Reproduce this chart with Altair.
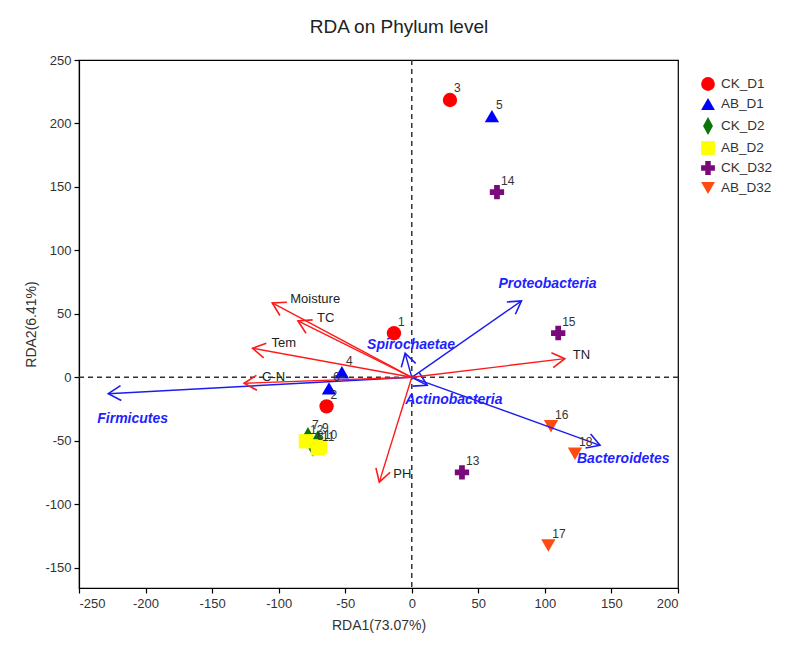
import altair as alt
import pandas as pd
import numpy as np

# ---------------- data ----------------
sample_ids = ["1", "2", "3", "4", "5", "6", "7", "8", "9",
              "10", "11", "12", "13", "14", "15", "16", "17", "18"]
sample_groups = ["CK_D1", "CK_D1", "CK_D1", "AB_D1", "AB_D1", "AB_D1",
                 "CK_D2", "CK_D2", "CK_D2", "AB_D2", "AB_D2", "AB_D2",
                 "CK_D32", "CK_D32", "CK_D32", "AB_D32", "AB_D32", "AB_D32"]
sample_rda1 = [-13.4, -64.0, 28.7, -52.5, 60.2, -62.2, -78.0, -74.2, -70.5,
               -69.0, -70.5, -79.5, 37.7, 64.0, 110.0, 104.6, 102.6, 122.6]
sample_rda2 = [34.7, -22.9, 218.5, 4.0, 205.8, -8.7, -46.5, -55.2, -48.9,
               -54.4, -56.0, -50.4, -74.9, 145.9, 34.9, -38.6, -132.5, -60.2]

env_names = ["Moisture", "TC", "Tem", "C-N", "TN", "PH"]
env_rda1 = [-104.8, -85.5, -119.6, -126.0, 115.0, -24.4]
env_rda2 = [58.6, 44.4, 22.9, -4.7, 14.7, -82.6]

phyla_names = ["Firmicutes", "Proteobacteria", "Spirochaetae", "Actinobacteria", "Bacteroidetes"]
phyla_rda1 = [-228.0, 82.4, -5.0, 11.6, 141.4]
phyla_rda2 = [-12.9, 60.2, 19.0, -6.3, -53.6]

group_order = ["CK_D1", "AB_D1", "CK_D2", "AB_D2", "CK_D32", "AB_D32"]
group_colors = ["#ff0000", "#0000ff", "#0a760a", "#ffff00", "#7a0a7a", "#ff4a10"]
DIAMOND = "M0,-1.3L0.72,0L0,1.3L-0.72,0Z"
group_shapes = ["circle", "triangle-up", DIAMOND, "square", "cross", "triangle-down"]

# ---------------- layout ----------------
W, H = 599, 528
XDOM = [-250, 200]
YDOM = [-166, 250]
SX = W / (XDOM[1] - XDOM[0])
SY = H / (YDOM[1] - YDOM[0])
FONT = "Liberation Sans"
CHEVRON = "M-0.62,1.05L0,0L0.62,1.05"
HYPHEN_LABEL = "datum.value < 0 ? '-' + abs(datum.value) : '' + datum.value"

# label pixel offsets (dx right, dy down) relative to arrow tips
env_offsets = {"Moisture": (18, -4), "TC": (19, -3), "Tem": (19, -5),
               "C-N": (18, -6), "TN": (8, -4), "PH": (14, -8)}
phyla_offsets = {"Firmicutes": (-11, 25), "Proteobacteria": (-23, -17),
                 "Spirochaetae": (-38, -8), "Actinobacteria": (-22, 15),
                 "Bacteroidetes": (-23, 14)}

samples = pd.DataFrame({"id": sample_ids, "group": sample_groups,
                        "x": sample_rda1, "y": sample_rda2})


def arrow_frame(names, xs, ys, offsets):
    df = pd.DataFrame({"name": names, "x": xs, "y": ys})
    df["x0"] = 0.0
    df["y0"] = 0.0
    df["ang"] = (np.degrees(np.arctan2(df["x"] * SX, df["y"] * SY)) + 360) % 360
    df["lx"] = [x + offsets[n][0] / SX for n, x in zip(df["name"], df["x"])]
    df["ly"] = [y - offsets[n][1] / SY for n, y in zip(df["name"], df["y"])]
    return df


env = arrow_frame(env_names, env_rda1, env_rda2, env_offsets)
phyla = arrow_frame(phyla_names, phyla_rda1, phyla_rda2, phyla_offsets)
zero = pd.DataFrame({"v": [0.0]})

xs = alt.Scale(domain=XDOM, nice=False, zero=False)
ys = alt.Scale(domain=YDOM, nice=False, zero=False)

X = alt.X("x:Q", scale=xs, axis=alt.Axis(title="RDA1(73.07%)", values=list(range(-250, 201, 50)),
                                         labelExpr=HYPHEN_LABEL, labelPadding=4, titlePadding=8))
Y = alt.Y("y:Q", scale=ys, axis=alt.Axis(title="RDA2(6.41%)", values=list(range(-150, 251, 50)),
                                         labelExpr=HYPHEN_LABEL, labelPadding=3, titlePadding=6))

vrule = alt.Chart(zero).mark_rule(color="#333", strokeDash=[5, 4], strokeWidth=1.5).encode(
    x=alt.X("v:Q", scale=xs))
hrule = alt.Chart(zero).mark_rule(color="#333", strokeDash=[5, 4], strokeWidth=1.5).encode(
    y=alt.Y("v:Q", scale=ys))


def arrows(df, color):
    line = alt.Chart(df).mark_rule(color=color, strokeWidth=1.4).encode(
        x=alt.X("x0:Q", scale=xs), y=alt.Y("y0:Q", scale=ys), x2="x:Q", y2="y:Q")
    head = alt.Chart(df).mark_point(shape=CHEVRON, filled=False, color=color, size=580,
                                    strokeWidth=1.6, opacity=1).encode(
        x=alt.X("x:Q", scale=xs), y=alt.Y("y:Q", scale=ys), angle=alt.Angle("ang:Q", scale=None))
    return line + head


phyla_arrows = arrows(phyla, "#1c1cf0")
env_arrows = arrows(env, "#ff1a1a")

env_text = alt.Chart(env).mark_text(align="left", baseline="middle", fontSize=13,
                                    color="#222", font=FONT).encode(
    x=alt.X("lx:Q", scale=xs), y=alt.Y("ly:Q", scale=ys), text="name:N")
phyla_text = alt.Chart(phyla).mark_text(align="left", baseline="middle", fontSize=14,
                                        fontWeight="bold", fontStyle="italic",
                                        color="#1f1fff", font=FONT).encode(
    x=alt.X("lx:Q", scale=xs), y=alt.Y("ly:Q", scale=ys), text="name:N")

legend = alt.Legend(title=None, orient="none", legendX=622, legendY=17,
                    labelFontSize=13.5, labelColor="#333", labelFont=FONT,
                    symbolSize=190, labelOffset=6, rowPadding=6, symbolStrokeWidth=0)

pts = alt.Chart(samples).mark_point(filled=True, size=205, opacity=1).encode(
    x=X, y=Y,
    color=alt.Color("group:N", scale=alt.Scale(domain=group_order, range=group_colors),
                    sort=group_order, legend=legend),
    shape=alt.Shape("group:N", scale=alt.Scale(domain=group_order, range=group_shapes),
                    sort=group_order, legend=legend),
)

pt_text = alt.Chart(samples).mark_text(align="left", baseline="middle", dx=4, dy=-11.5,
                                       fontSize=12, color="#333", font=FONT).encode(
    x=alt.X("x:Q", scale=xs), y=alt.Y("y:Q", scale=ys), text="id:N")

chart = alt.layer(
    pts, vrule, hrule, phyla_arrows, env_arrows, env_text, phyla_text, pt_text
).properties(
    width=W, height=H,
    title=alt.Title("RDA on Phylum level", fontSize=19, fontWeight="normal", font=FONT,
                    color="#222", anchor="middle", frame="bounds", offset=17),
    autosize=alt.AutoSizeParams(type="none"),
    padding={"left": 71, "top": 52, "right": 107, "bottom": 55},
    background="white",
).configure_view(stroke="black", strokeWidth=1.2).configure_axis(
    grid=False, labelFontSize=13, labelColor="#333", labelFont=FONT,
    titleFontSize=14, titleFontWeight="normal", titleColor="#333", titleFont=FONT,
    domainColor="black", tickColor="black", tickSize=5, domainWidth=1.2, tickWidth=1.2,
)

chart.save("out.html", embed_options={"renderer": "svg", "actions": False})
